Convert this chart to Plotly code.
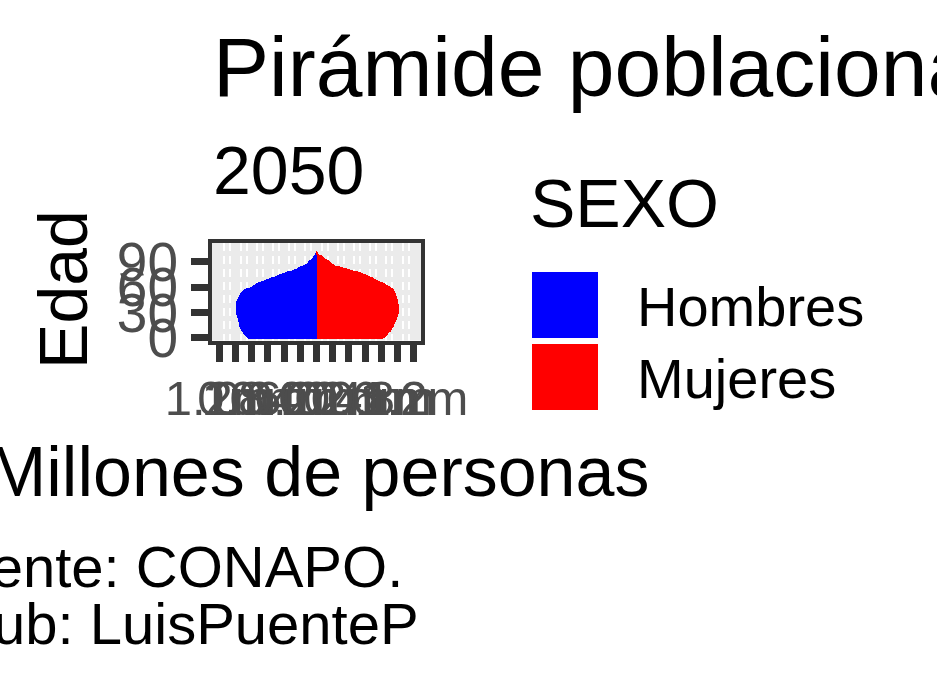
import plotly.graph_objects as go

W, H = 937, 693

# ---------------- data (millions of people, by single-year age) ----------------
edades = list(range(0, 103))
hombres = [0.840, 0.850, 0.862, 0.872, 0.882, 0.892, 0.902, 0.910, 0.917, 0.923,
           0.929, 0.934, 0.939, 0.943, 0.947, 0.950, 0.953, 0.956, 0.959, 0.961,
           0.964, 0.966, 0.969, 0.971, 0.974, 0.976, 0.979, 0.982, 0.984, 0.987,
           0.989, 0.991, 0.993, 0.995, 0.997, 0.998, 0.999, 0.999, 0.998, 0.997,
           0.996, 0.994, 0.992, 0.989, 0.986, 0.982, 0.978, 0.973, 0.967, 0.961,
           0.955, 0.949, 0.942, 0.935, 0.927, 0.918, 0.905, 0.890, 0.870, 0.848,
           0.824, 0.801, 0.781, 0.761, 0.741, 0.721, 0.700, 0.679, 0.650, 0.618,
           0.585, 0.558, 0.532, 0.508, 0.484, 0.460, 0.427, 0.393, 0.360, 0.332,
           0.305, 0.275, 0.246, 0.224, 0.203, 0.182, 0.162, 0.141, 0.122, 0.110,
           0.099, 0.088, 0.078, 0.068, 0.059, 0.049, 0.038, 0.028, 0.019, 0.012,
           0.007, 0.004, 0.002]
mujeres = [0.818, 0.832, 0.846, 0.860, 0.871, 0.880, 0.888, 0.897, 0.906, 0.915,
           0.923, 0.931, 0.937, 0.942, 0.947, 0.952, 0.957, 0.962, 0.967, 0.972,
           0.977, 0.982, 0.986, 0.990, 0.994, 0.998, 1.001, 1.004, 1.007, 1.010,
           1.012, 1.014, 1.015, 1.016, 1.016, 1.016, 1.016, 1.015, 1.014, 1.013,
           1.012, 1.011, 1.009, 1.007, 1.004, 1.001, 0.998, 0.994, 0.990, 0.987,
           0.984, 0.981, 0.979, 0.976, 0.972, 0.966, 0.959, 0.951, 0.942, 0.932,
           0.918, 0.902, 0.883, 0.862, 0.842, 0.822, 0.801, 0.779, 0.757, 0.735,
           0.713, 0.695, 0.678, 0.658, 0.638, 0.607, 0.576, 0.545, 0.514, 0.484,
           0.453, 0.412, 0.371, 0.330, 0.295, 0.262, 0.229, 0.210, 0.192, 0.177,
           0.163, 0.152, 0.140, 0.125, 0.110, 0.097, 0.084, 0.062, 0.043, 0.030,
           0.019, 0.010, 0.004]

x_ticks = [-1.2, -1.0, -0.8, -0.6, -0.4, -0.2, 0.0, 0.2, 0.4, 0.6, 0.8, 1.0, 1.2]
x_labels = ["1.2m", "1m", "0.8m", "0.6m", "0.4m", "0.2m", "0",
            "0.2m", "0.4m", "0.6m", "0.8m", "1m", "1.2m"]
y_ticks = [0, 30, 60, 90]
y_labels = ["0", "30", "60", "90"]
series_names = ["Hombres", "Mujeres"]
series_colors = ["#0000FF", "#FF0000"]

FONT = "Liberation Sans, Arial, Helvetica, sans-serif"


def px(x):
    return x / W


def py(y):
    return 1 - y / H


fig = go.Figure()
fig.add_trace(go.Bar(y=edades, x=[-v for v in hombres], orientation="h",
                     name=series_names[0], marker=dict(color=series_colors[0], line=dict(width=0)),
                     width=1, showlegend=False))
fig.add_trace(go.Bar(y=edades, x=mujeres, orientation="h",
                     name=series_names[1], marker=dict(color=series_colors[1], line=dict(width=0)),
                     width=1, showlegend=False))

# panel geometry (pixels in page)
PL, PR, PT, PB = 212.0, 421.0, 242.5, 340.5

# minor grid: pairs of white lines around the half-step positions
step_px = 16.25 / 0.2
minor_vals = []
for i in range(len(x_ticks) - 1):
    mid = (x_ticks[i] + x_ticks[i + 1]) / 2
    minor_vals += [mid - 3 / step_px, mid + 3 / step_px]

fig.update_layout(
    width=W, height=H,
    margin=dict(l=0, r=0, t=0, b=0, autoexpand=False),
    paper_bgcolor="white",
    plot_bgcolor="#EBEBEB",
    barmode="relative",
    bargap=0,
    font=dict(family=FONT, color="black"),
    xaxis=dict(
        domain=[px(PL), px(PR)],
        automargin=False,
        range=[-1.289, 1.289],
        tickmode="array", tickvals=x_ticks, ticktext=x_labels,
        tickangle=0,
        tickfont=dict(size=49, color="#4D4D4D", family=FONT),
        ticks="outside", ticklen=17, tickwidth=7, tickcolor="#333333",
        ticklabelstandoff=-5,
        showgrid=False, zeroline=False,
        showline=True, linecolor="#333333", linewidth=4, mirror=True,
        minor=dict(tickmode="array", tickvals=minor_vals, showgrid=True,
                   gridcolor="white", gridwidth=2, griddash="8px,5px", ticks=""),
        fixedrange=True,
    ),
    yaxis=dict(
        domain=[py(PB), py(PT)],
        automargin=False,
        range=[-3.2, 112.8],
        tickmode="array", tickvals=y_ticks, ticktext=y_labels,
        tickfont=dict(size=55, color="#4D4D4D", family=FONT),
        ticks="outside", ticklen=17, tickwidth=7, tickcolor="#333333",
        ticklabelstandoff=2,
        showgrid=False, zeroline=False,
        showline=True, linecolor="#333333", linewidth=4, mirror=True,
        fixedrange=True,
    ),
)


def text_at(txt, x, baseline, size, xanchor="left", color="black"):
    fig.add_annotation(text=txt, x=px(x), y=py(baseline + 0.212 * size + 1),
                       xref="paper", yref="paper", xanchor=xanchor, yanchor="bottom",
                       showarrow=False, font=dict(size=size, color=color, family=FONT))


text_at("Pirámide poblacional de México", 211, 97, 84)
text_at("2050", 211, 195, 68)
text_at("Millones de personas", 318, 497, 70, xanchor="center")
text_at("Fuente: CONAPO.&nbsp;", PR, 588, 58, xanchor="right")
text_at("GitHub: LuisPuenteP", PR, 645, 58, xanchor="right")

# y axis title (rotated)
fig.add_annotation(text="Edad", x=px(87 + 0.212 * 68 + 1), y=py((PT + PB) / 2 - 2),
                   xref="paper", yref="paper", xanchor="right", yanchor="middle",
                   textangle=-90, showarrow=False, font=dict(size=68, family=FONT))

# legend
text_at("SEXO", 528, 228, 68)
key_tops = [272, 344]
for name, col, top in zip(series_names, series_colors, key_tops):
    fig.add_shape(type="rect", xref="paper", yref="paper",
                  x0=px(532), x1=px(598), y0=py(top + 66), y1=py(top),
                  fillcolor=col, line=dict(width=0))
    text_at(name, 635, top + 55, 56)

fig.write_html("out.html")
